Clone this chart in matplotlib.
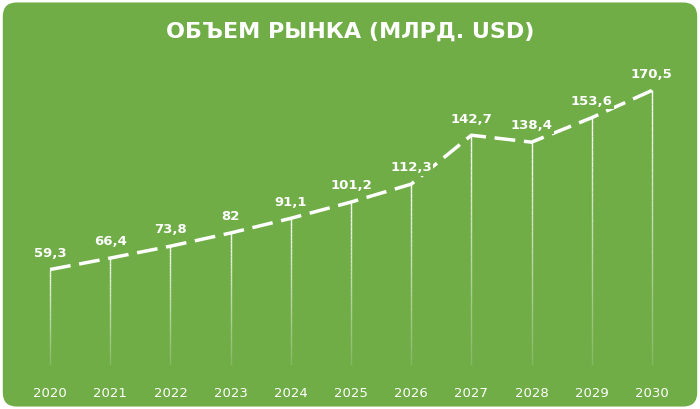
import matplotlib
matplotlib.use("Agg")
import matplotlib.pyplot as plt
import numpy as np
from matplotlib.patches import FancyBboxPatch

years = ["2020","2021","2022","2023","2024","2025","2026","2027","2028","2029","2030"]
values = [59.3, 66.4, 73.8, 82, 91.1, 101.2, 112.3, 142.7, 138.4, 153.6, 170.5]
labels = ["59,3","66,4","73,8","82","91,1","101,2","112,3","142,7","138,4","153,6","170,5"]
title = "ОБЪЕМ РЫНКА (МЛРД. USD)"

G = "#70AD47"
W, H = 700, 409
fig = plt.figure(figsize=(W/100, H/100), dpi=100)
fig.patch.set_facecolor("white")
bg = FancyBboxPatch((0.004, 0.006), 0.992, 0.988, boxstyle="round,pad=0,rounding_size=0.02",
                    transform=fig.transFigure, facecolor=G, edgecolor="none", mutation_aspect=W/H,
                    zorder=-10)
fig.patches.append(bg)

ax = fig.add_axes([20/W, 1-365/H, 662/W, 285/H])
ax.set_zorder(5)
ax.set_facecolor("none")
x = np.arange(len(years))
ax.set_xlim(-0.5, len(years)-0.5)
ax.set_ylim(0, 177)

for xi, v in zip(x, values):
    n = 40
    ys = np.linspace(0, v, n+1)
    for k in range(n):
        ax.plot([xi, xi], [ys[k], ys[k+1]], color="white", lw=1,
                alpha=0.15 + 0.85*(k/n), solid_capstyle="butt", zorder=1)

ax.plot(x, values, color="white", lw=2.5, dashes=(6, 2.5), zorder=2)
for xi, v, l in zip(x, values, labels):
    ax.annotate(l, (xi, v), xytext=(0, 7), textcoords="offset points", ha="center", va="bottom",
                color="white", fontsize=9.5, fontweight="bold", zorder=3,
                bbox=dict(boxstyle="square,pad=0.1", fc=G, ec="none"))

for s in ax.spines.values():
    s.set_visible(False)
ax.set_yticks([])
ax.set_xticks(x)
ax.set_xticklabels(years, color="white", fontsize=9.5)
ax.tick_params(axis="x", length=0, pad=16)

fig.text(0.5, 1-32/H, "  ".join([]) or title, ha="center", va="center", color="white",
         fontsize=16, fontweight="bold", zorder=6)
fig.savefig("out.png", dpi=100, facecolor="white")
